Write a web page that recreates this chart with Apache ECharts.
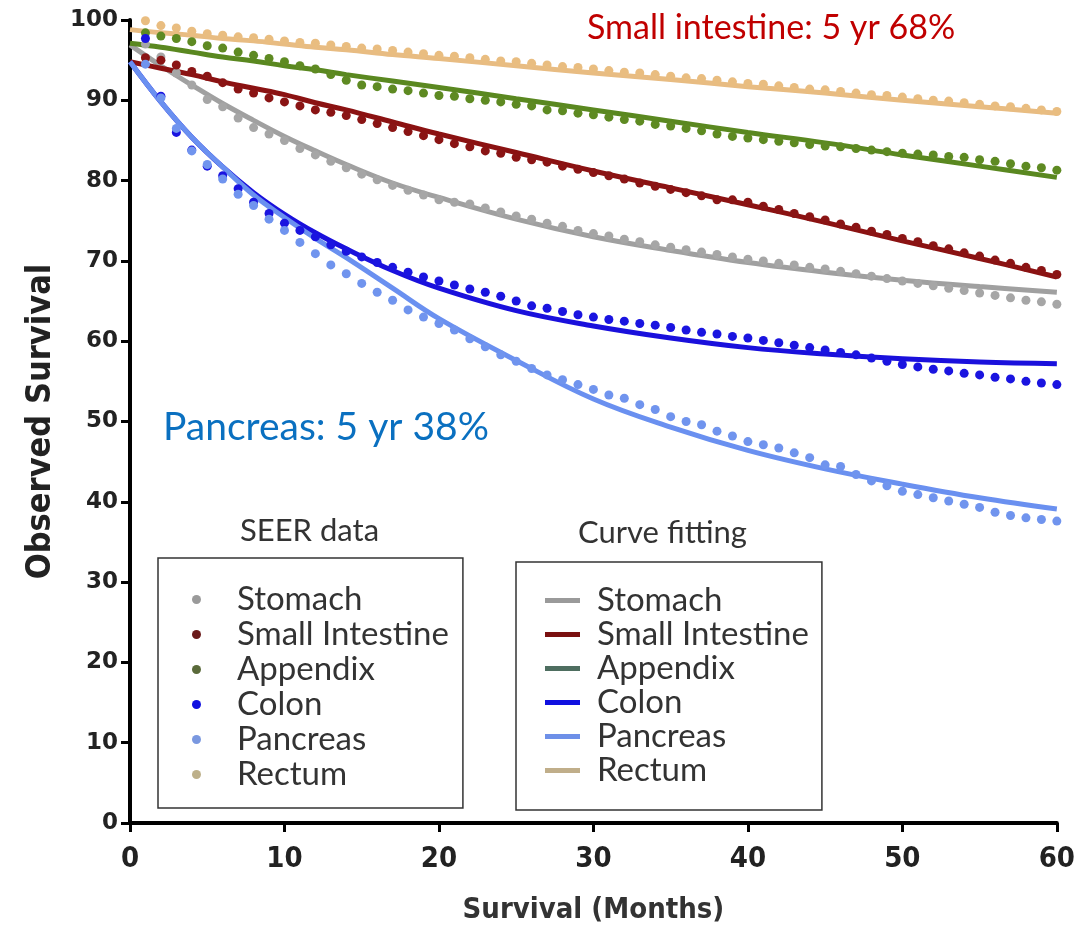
<!DOCTYPE html>
<html>
<head>
<meta charset="utf-8">
<script src="https://cdn.jsdelivr.net/npm/echarts@6/dist/echarts.min.js"></script>
<style>
html,body{margin:0;padding:0;background:#fff;}
#chart{width:1078px;height:930px;}
</style>
</head>
<body>
<div id="chart"></div>
<script>
// ---- data ----
const organs = ['Stomach', 'Small Intestine', 'Appendix', 'Colon', 'Pancreas', 'Rectum'];
const xTicks = [0, 10, 20, 30, 40, 50, 60];
const yTicks = [0, 10, 20, 30, 40, 50, 60, 70, 80, 90, 100];

const months = [1,2,3,4,5,6,7,8,9,10,11,12,13,14,15,16,17,18,19,20,21,22,23,24,25,26,27,28,29,30,
                31,32,33,34,35,36,37,38,39,40,41,42,43,44,45,46,47,48,49,50,51,52,53,54,55,56,57,58,59,60];

const seerStomach = [97.0,95.4,93.4,91.9,90.1,89.2,87.8,86.6,85.8,85.0,84.0,83.2,82.4,81.6,80.8,80.1,79.4,78.8,78.2,77.6,
                     77.3,77.1,76.6,76.1,75.6,75.2,74.7,74.3,73.8,73.4,73.1,72.7,72.4,72.0,71.7,71.4,71.1,70.8,70.5,70.2,
                     70.0,69.7,69.5,69.2,69.0,68.7,68.4,68.1,67.8,67.5,67.2,66.9,66.6,66.3,66.0,65.7,65.4,65.1,64.9,64.6];
const seerSmallIntestine = [95.3,95.0,94.4,93.6,93.0,92.2,91.4,90.9,90.3,89.8,89.3,88.8,88.5,88.1,87.6,87.1,86.6,86.1,85.6,85.1,
                     84.6,84.2,83.7,83.4,82.9,82.6,82.3,81.8,81.4,81.0,80.6,80.2,79.7,79.3,78.9,78.5,78.1,77.6,77.6,77.3,
                     76.8,76.4,75.9,75.5,75.1,74.6,74.2,73.7,73.3,72.8,72.4,71.9,71.5,71.0,70.6,70.1,69.7,69.2,68.8,68.3];
const seerAppendix = [98.4,98.0,97.7,97.3,96.8,96.5,96.0,95.6,95.2,94.8,94.3,93.9,93.2,92.5,91.9,91.7,91.4,91.2,90.9,90.6,
                     90.5,90.2,90.0,89.8,89.5,89.3,88.8,88.7,88.4,88.2,87.9,87.6,87.4,87.0,86.8,86.5,86.2,85.8,85.5,85.3,
                     85.1,84.9,84.7,84.5,84.3,84.2,84.0,83.8,83.6,83.4,83.3,83.2,83.0,82.9,82.6,82.4,82.1,81.8,81.6,81.3];
const seerColon = [97.7,90.5,86.0,83.8,81.8,80.6,79.0,77.3,75.9,74.7,73.8,73.0,72.0,71.2,70.5,69.8,69.2,68.6,68.0,67.5,
                     67.0,66.5,66.1,65.6,65.0,64.4,64.1,63.7,63.3,63.0,62.7,62.5,62.2,62.0,61.7,61.4,61.1,60.9,60.6,60.4,
                     60.1,59.8,59.5,59.2,58.9,58.6,58.3,57.9,57.5,57.1,56.8,56.5,56.3,56.0,55.8,55.5,55.3,55.0,54.8,54.6];
const seerPancreas = [94.5,90.3,86.5,83.7,82.0,80.2,78.3,76.9,75.2,73.8,72.3,70.9,69.5,68.4,67.2,66.1,65.1,63.9,63.0,62.2,
                     61.4,60.3,59.3,58.3,57.5,56.6,55.8,55.2,54.6,54.0,53.3,52.9,52.1,51.5,50.6,50.0,49.6,48.8,48.2,47.5,
                     47.1,46.7,46.1,45.5,44.6,44.4,43.4,42.6,42.0,41.3,40.9,40.5,40.1,39.7,39.3,38.7,38.3,38.0,37.8,37.6];
const seerRectum = [99.9,99.3,99.0,98.6,98.3,98.1,97.9,97.8,97.6,97.4,97.2,97.1,96.9,96.7,96.5,96.4,96.2,96.0,95.8,95.6,
                     95.5,95.3,95.1,94.9,94.8,94.6,94.4,94.2,94.1,93.9,93.7,93.5,93.4,93.2,93.0,92.8,92.7,92.5,92.3,92.1,
                     92.0,91.8,91.6,91.4,91.3,91.1,90.9,90.7,90.6,90.4,90.2,90.0,89.9,89.7,89.5,89.3,89.2,89.0,88.8,88.6];

const fitMonths = [0,2,4,6,8,10,12,14,17,20,25,30,35,40,45,50,55,60];
const fitStomach        = [96.9,94.3,91.9,89.6,87.5,85.5,83.7,82.0,79.7,77.9,75.2,73.0,71.3,69.8,68.6,67.6,66.8,66.1];
const fitSmallIntestine = [94.8,94.0,93.2,92.3,91.5,90.7,89.7,88.8,87.3,85.8,83.5,81.2,79.1,77.0,74.8,72.5,70.3,68.0];
const fitAppendix       = [97.1,96.6,96.0,95.4,94.9,94.3,93.8,93.2,92.4,91.6,90.2,88.8,87.4,86.0,84.7,83.2,81.8,80.4];
const fitColon          = [94.8,89.8,85.4,81.7,78.5,75.8,73.5,71.5,68.8,66.6,63.8,61.9,60.4,59.2,58.4,57.8,57.4,57.2];
const fitPancreas       = [94.8,89.8,85.4,81.7,78.2,75.4,72.8,70.4,66.6,62.8,57.6,52.8,49.3,46.4,44.1,42.2,40.5,39.1];
const fitRectum         = [98.8,98.4,98.1,97.7,97.4,97.0,96.6,96.3,95.7,95.2,94.3,93.4,92.6,91.7,90.9,90.0,89.2,88.4];

const dotColors  = ['#a6a6a6', '#8a1414', '#5e8a22', '#1a14e0', '#7094ee', '#e9bd80'];
const lineColors = ['#a0a0a0', '#8b1212', '#5a8820', '#1a10dc', '#6a90f0', '#e8bc82'];
const legendDotColors  = ['#9a9a9a', '#6a1a1a', '#5a6a3a', '#1010e0', '#7a98e0', '#bdb08a'];
const legendLineColors = ['#9a9a9a', '#7a1010', '#4e6e60', '#1010e0', '#6e90e8', '#c0ae8a'];

const seerSets = [seerStomach, seerSmallIntestine, seerAppendix, seerColon, seerPancreas, seerRectum];
const fitSets  = [fitStomach, fitSmallIntestine, fitAppendix, fitColon, fitPancreas, fitRectum];

// ---- chart ----
const chart = echarts.init(document.getElementById('chart'), null, {renderer: 'canvas'});

const series = [];
organs.forEach((name, k) => {
  series.push({
    name: 'Fit ' + name,
    type: 'line',
    data: fitMonths.map((m, i) => [m, fitSets[k][i]]),
    smooth: 0.4,
    symbol: 'none',
    lineStyle: {width: 5, color: lineColors[k]},
    itemStyle: {color: lineColors[k]},
    z: 2
  });
});
organs.forEach((name, k) => {
  series.push({
    name: 'SEER ' + name,
    type: 'scatter',
    data: months.map((m, i) => [m, seerSets[k][i]]),
    symbol: 'circle',
    symbolSize: 9,
    itemStyle: {color: dotColors[k], opacity: 1},
    z: 3
  });
});

const legendFont = {fontFamily: 'Lato, "Open Sans", sans-serif', fontSize: 33, color: '#333', lineHeight: 35};
const condFont = '"Liberation Sans Narrow", "DejaVu Sans Condensed", "Liberation Sans", Arial';

const option = {
  animation: false,
  backgroundColor: '#ffffff',
  grid: {left: 130, right: 19, top: 20, bottom: 103, containLabel: false},
  xAxis: {
    type: 'value', min: 0, max: 60, interval: 10,
    name: 'Survival (Months)', nameLocation: 'middle', nameGap: 73,
    nameTextStyle: {fontFamily: condFont, fontWeight: 'bold', fontSize: 29, color: '#333'},
    axisLine: {lineStyle: {color: '#000', width: 4}},
    axisTick: {length: 9, lineStyle: {width: 3, color: '#000'}},
    axisLabel: {margin: 22, fontFamily: condFont, fontWeight: 'bold', fontSize: 29, color: '#222',
                formatter: v => xTicks.includes(v) ? String(v) : ''},
    splitLine: {show: false}
  },
  yAxis: {
    type: 'value', min: 0, max: 100, interval: 10,
    name: 'Observed Survival', nameLocation: 'middle', nameGap: 72,
    nameTextStyle: {fontFamily: condFont, fontWeight: 'bold', fontSize: 34, color: '#222'},
    axisLine: {lineStyle: {color: '#000', width: 4}},
    axisTick: {length: 9, lineStyle: {width: 3, color: '#000'}},
    axisLabel: {margin: 12, fontFamily: '"DejaVu Sans", Verdana', fontWeight: 'bold', fontSize: 23, color: '#222',
                formatter: v => yTicks.includes(v) ? String(v) : ''},
    splitLine: {show: false}
  },
  legend: [
    {
      orient: 'vertical', left: 158, top: 558,
      data: organs.map((n, k) => ({name: 'SEER ' + n, icon: 'circle', itemStyle: {color: legendDotColors[k]}})),
      formatter: n => n.replace('SEER ', ''),
      itemWidth: 9, itemHeight: 9, itemGap: 0,
      padding: [24, 14, 16, 34],
      borderColor: '#333', borderWidth: 1.5,
      textStyle: Object.assign({}, legendFont, {padding: [0, 0, 0, 31]}),
      selectedMode: false
    },
    {
      orient: 'vertical', left: 516, top: 562,
      data: organs.map((n, k) => ({name: 'Fit ' + n, icon: 'rect', itemStyle: {color: legendLineColors[k]}})),
      formatter: n => n.replace('Fit ', ''),
      itemWidth: 35, itemHeight: 5, itemGap: -1,
      padding: [21, 13, 22, 29],
      borderColor: '#333', borderWidth: 1.5,
      textStyle: Object.assign({}, legendFont, {padding: [0, 0, 0, 12]}),
      selectedMode: false
    }
  ],
  graphic: [
    {type: 'text', left: 587, top: 11, style: {text: 'Small intestine: 5 yr 68%', fill: '#c00000', font: '34px Lato, "Open Sans", sans-serif'}},
    {type: 'text', left: 163, top: 408, style: {text: 'Pancreas: 5 yr 38%', fill: '#0a70c0', font: '39px Lato, "Open Sans", sans-serif'}},
    {type: 'text', left: 240, top: 515, style: {text: 'SEER data', fill: '#333', font: '31px Lato, "Open Sans", sans-serif'}},
    {type: 'text', left: 578, top: 517, style: {text: 'Curve fitting', fill: '#333', font: '31px Lato, "Open Sans", sans-serif'}}
  ],
  series: series
};
chart.setOption(option);
</script>
</body>
</html>
